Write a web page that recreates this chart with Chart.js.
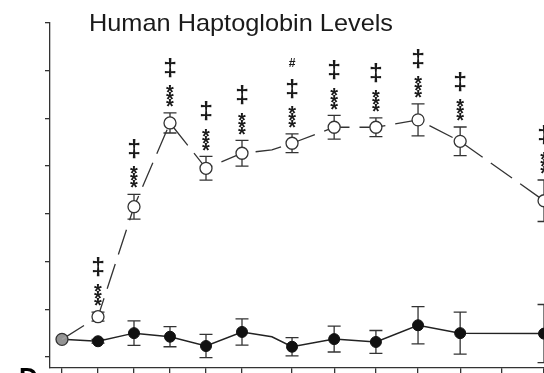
<!DOCTYPE html>
<html><head><meta charset="utf-8">
<script src="https://cdn.jsdelivr.net/npm/chart.js@4"></script>
<style>
html,body{margin:0;padding:0;background:#fff;overflow:hidden}
#wrap{position:relative;width:544px;height:373px;overflow:hidden;background:#fff}
canvas{position:absolute;left:0;top:0}
</style></head>
<body><div id="wrap"><canvas id="c" width="600" height="400"></canvas></div>
<script>
// ---- data ----
const titleText = 'Human Haptoglobin Levels';
const panelLabel = 'D';
const timePoints = [0, 1, 2, 3, 4, 5, 6.39, 7.56, 8.72, 9.89, 11.06, 13.39];
const tickPoints = [0, 1, 2, 3, 4, 5, 6.39, 7.56, 8.72, 9.89, 11.06, 12.22, 13.39];
const yTicks = [0, 1, 2, 3, 4, 5, 6, 7];
const breakPoint = 5.83;
const openMeans  = [0.37, 0.845, 3.15, 4.905, 3.955, 4.27, 4.48, 4.815, 4.815, 4.97, 4.52, 3.275];
const openErr    = [0, 0.094, 0.26, 0.21, 0.25, 0.27, 0.195, 0.25, 0.195, 0.335, 0.30, 0.435];
const openAtBreak = 4.34;
const closedMeans = [0.37, 0.33, 0.50, 0.425, 0.23, 0.525, 0.215, 0.375, 0.315, 0.665, 0.50, 0.49];
const closedErr   = [0, 0.04, 0.255, 0.21, 0.245, 0.275, 0.19, 0.27, 0.24, 0.39, 0.44, 0.61];
const closedAtBreak = 0.425;
const starMarks   = ['', '***', '***', '***', '***', '***', '***', '***', '***', '***', '***', '***'];
const daggerMarks = ['', '‡', '‡', '‡', '‡', '‡', '‡', '‡', '‡', '‡', '‡', '‡'];
const hashMarks   = ['', '', '', '', '', '', '#', '', '', '', '', ''];

// ---- build library data ----
function withBreak(means, breakVal) {
  const pts = [];
  timePoints.forEach((t, i) => {
    if (i > 0 && timePoints[i - 1] < breakPoint && t > breakPoint) pts.push({x: breakPoint, y: breakVal, brk: true});
    pts.push({x: t, y: means[i]});
  });
  return pts;
}
const openData = withBreak(openMeans, openAtBreak);
const closedData = withBreak(closedMeans, closedAtBreak);
const FONT = '"Liberation Sans", Arial, Helvetica, sans-serif';

// pick a font size so that a glyph's ink height matches a target height
function sizedFont(ctx, glyph, targetH, weight) {
  ctx.font = (weight || '') + ' 20px ' + FONT;
  const m = ctx.measureText(glyph);
  const h = m.actualBoundingBoxAscent + m.actualBoundingBoxDescent;
  const size = 20 * targetH / h;
  ctx.font = (weight || '') + ' ' + size.toFixed(2) + 'px ' + FONT;
  return ctx.measureText(glyph);
}

const decor = {
  id: 'decor',
  beforeDatasetsDraw(chart) {
    const {ctx, scales: {x, y}} = chart;
    ctx.save();
    ctx.strokeStyle = '#333';
    ctx.lineWidth = 1.3;
    const bars = (means, errs) => means.forEach((m, i) => {
      if (!errs[i]) return;
      const px = x.getPixelForValue(timePoints[i]);
      const t = y.getPixelForValue(m + errs[i]);
      const b = y.getPixelForValue(m - errs[i]);
      ctx.beginPath();
      ctx.moveTo(px, t); ctx.lineTo(px, b);
      ctx.moveTo(px - 6.5, t); ctx.lineTo(px + 6.5, t);
      ctx.moveTo(px - 6.5, b); ctx.lineTo(px + 6.5, b);
      ctx.stroke();
    });
    bars(closedMeans, closedErr);
    bars(openMeans, openErr);
    ctx.restore();
  },
  afterDraw(chart) {
    const {ctx, scales: {x, y}} = chart;
    ctx.save();
    ctx.fillStyle = '#1a1a1a';
    ctx.textAlign = 'center';
    // significance marks above the open series
    openMeans.forEach((m, i) => {
      const px = x.getPixelForValue(timePoints[i]);
      const errTop = y.getPixelForValue(m + openErr[i]);
      let bottom = errTop - 6;
      if (starMarks[i]) {
        const mm = sizedFont(ctx, '*', 8, 'bold');
        const asc = mm.actualBoundingBoxAscent, desc = mm.actualBoundingBoxDescent;
        const n = starMarks[i].length;
        for (let k = 0; k < n; k++) {
          const cy = bottom - 3.8 - k * 7;
          ctx.fillText('*', px, cy + (asc - desc) / 2);
        }
        bottom = bottom - n * 7 - 8;
      }
      if (daggerMarks[i]) {
        const mm = sizedFont(ctx, daggerMarks[i], 21, 'bold');
        ctx.fillText(daggerMarks[i], px, bottom - mm.actualBoundingBoxDescent);
        bottom = bottom - (mm.actualBoundingBoxAscent + mm.actualBoundingBoxDescent) - 12;
      }
      if (hashMarks[i]) {
        const mm = sizedFont(ctx, hashMarks[i], 8.5, 'bold');
        ctx.fillText(hashMarks[i], px, bottom - mm.actualBoundingBoxDescent);
      }
    });
    // title
    ctx.textAlign = 'left';
    ctx.fillStyle = '#1a1a1a';
    ctx.font = '24px ' + FONT;
    const w = ctx.measureText(titleText).width;
    ctx.save();
    ctx.translate(89, 30.5);
    ctx.scale(304 / w, 1);
    ctx.fillText(titleText, 0, 0);
    ctx.restore();
    // panel letter (mostly cut off at the bottom)
    ctx.fillStyle = '#000';
    ctx.font = 'bold 26px ' + FONT;
    const pm = ctx.measureText(panelLabel);
    ctx.fillText(panelLabel, 19, 368 + pm.actualBoundingBoxAscent);
    ctx.restore();
  }
};

new Chart(document.getElementById('c'), {
  type: 'line',
  data: {
    datasets: [
      {
        label: 'open',
        data: openData,
        borderColor: '#333',
        borderWidth: 1.3,
        borderDash: [26, 10],
        pointStyle: 'circle',
        pointRadius: openData.map(p => p.brk ? 0 : 6),
        pointBorderWidth: 1.3,
        pointBorderColor: '#333',
        pointBackgroundColor: openData.map((p, i) => i === 0 ? 'rgba(255,255,255,0.55)' : '#fff'),
        tension: 0
      },
      {
        label: 'closed',
        data: closedData,
        borderColor: '#222',
        borderWidth: 1.5,
        pointStyle: 'circle',
        pointRadius: closedData.map(p => p.brk ? 0 : 5.5),
        pointBorderWidth: 1,
        pointBorderColor: '#111',
        pointBackgroundColor: '#111',
        tension: 0
      }
    ]
  },
  options: {
    responsive: false,
    animation: false,
    devicePixelRatio: 1,
    layout: {padding: {top: 23, left: 0, right: 20, bottom: 0}},
    plugins: {legend: {display: false}, tooltip: {enabled: false}, title: {display: false}},
    scales: {
      x: {
        type: 'linear',
        min: -0.3333,
        max: 14.389,
        afterBuildTicks: s => { s.ticks = tickPoints.map(v => ({value: v})); },
        afterFit: s => { s.height = 32; },
        ticks: {display: false},
        grid: {drawOnChartArea: false, drawTicks: true, tickLength: 6, color: '#333', lineWidth: 1.3},
        border: {display: true, color: '#333', width: 1.3}
      },
      y: {
        type: 'linear',
        min: -0.2306,
        max: 7,
        afterBuildTicks: s => { s.ticks = yTicks.map(v => ({value: v})); },
        afterFit: s => { s.width = 50; },
        ticks: {display: false},
        grid: {drawOnChartArea: false, drawTicks: true, tickLength: 5, color: '#333', lineWidth: 1.3},
        border: {display: true, color: '#333', width: 1.3}
      }
    }
  },
  plugins: [decor]
});
</script>
</body></html>
